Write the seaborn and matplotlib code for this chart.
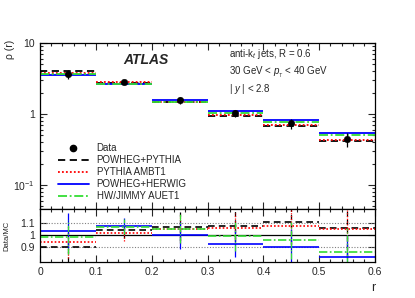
import numpy as np
import matplotlib
matplotlib.use("Agg")
import matplotlib.pyplot as plt
import seaborn as sns
import pandas as pd
from matplotlib.ticker import MultipleLocator, FixedLocator, LogLocator, NullFormatter
from matplotlib.lines import Line2D

# ---- data ----
bin_edges = [0.0, 0.1, 0.2, 0.3, 0.4, 0.5, 0.6]
r_centers = [0.05, 0.15, 0.25, 0.35, 0.45, 0.55]
data_rho = [3.62, 2.85, 1.57, 1.02, 0.74, 0.445]
data_relerr = [0.14, 0.06, 0.11, 0.12, 0.16, 0.22]

ratio_powheg_pythia = [0.905, 1.040, 1.068, 1.076, 1.105, 1.055]
ratio_pythia_ambt1 = [0.945, 1.015, 1.047, 1.055, 1.073, 1.045]
ratio_powheg_herwig = [1.034, 1.076, 0.995, 0.930, 0.905, 0.820]
ratio_hw_jimmy = [0.980, 1.068, 1.050, 0.990, 0.955, 0.865]

series_names = ["POWHEG+PYTHIA", "PYTHIA AMBT1", "POWHEG+HERWIG", "HW/JIMMY AUET1"]
series_ratios = [ratio_powheg_pythia, ratio_pythia_ambt1, ratio_powheg_herwig, ratio_hw_jimmy]
series_colors = ["black", "#ff0000", "#0000ff", "#33dd33"]
series_styles = [(0, (4, 2.5)), (0, (1, 1.2)), "-", (0, (5, 1.5, 1, 1.5))]

sns.set_theme(style="ticks")
plt.rcParams["font.family"] = ["Liberation Sans", "DejaVu Sans"]
plt.rcParams["mathtext.fontset"] = "custom"
plt.rcParams["mathtext.rm"] = "Liberation Sans"
plt.rcParams["mathtext.it"] = "Liberation Sans:italic"

fig = plt.figure(figsize=(4.15, 2.98), dpi=100)
L, R = 40 / 415, 375 / 415
ax = fig.add_axes([L, 1 - 209 / 298, R - L, (209 - 43) / 298])
axr = fig.add_axes([L, 1 - 262 / 298, R - L, (262 - 209) / 298], sharex=ax)

edges = np.array(bin_edges)
d = np.array(data_rho)
err = d * np.array(data_relerr)

# main panel MC predictions
for name, rat, c, ls in zip(series_names, series_ratios, series_colors, series_styles):
    mc = d / np.array(rat)
    ax.hlines(mc, edges[:-1], edges[1:], colors=c, linestyles=ls, lw=1.3, label=name)

df = pd.DataFrame({"r": r_centers, "rho": data_rho})
ax.errorbar(r_centers, data_rho, yerr=err, fmt="none", ecolor="black", lw=0.9)
sns.scatterplot(data=df, x="r", y="rho", ax=ax, color="black", s=22, edgecolor="black",
                zorder=5, legend=False)

ax.set_yscale("log")
ax.set_ylim(0.046, 10)
ax.set_xlim(0, 0.6)
ax.yaxis.set_major_locator(FixedLocator([0.1, 1, 10]))
ax.set_yticklabels(["$10^{-1}$", "1", "10"])
ax.yaxis.set_minor_locator(LogLocator(base=10, subs=np.arange(2, 10)))
ax.yaxis.set_minor_formatter(NullFormatter())
ax.set_ylabel("ρ (r)", fontsize=7.5, ha="right")
ax.yaxis.set_label_coords(-0.075, 1.02)
ax.set_xlabel("")
plt.setp(ax.get_xticklabels(), visible=False)

# legend
data_handle = Line2D([], [], marker="o", color="black", ls="none", markersize=4.5)
handles = [data_handle] + [Line2D([], [], color=c, ls=ls, lw=1.3) for c, ls in zip(series_colors, series_styles)]
labels = ["Data"] + series_names
ax.legend(handles, labels, loc="lower left", bbox_to_anchor=(0.03, 0.0), frameon=False,
          fontsize=7, handlelength=3.2, labelspacing=0.2, borderpad=0.3)

ax.text(0.248, 0.895, "ATLAS", transform=ax.transAxes, fontsize=10, fontweight="bold",
        fontstyle="italic", va="center")
ax.text(0.564, 0.935, r"anti-k$_{t}$ jets, R = 0.6", transform=ax.transAxes, fontsize=7, va="center")
ax.text(0.564, 0.825, r"30 GeV < $p_{_{T}}$ < 40 GeV", transform=ax.transAxes, fontsize=7, va="center")
ax.text(0.564, 0.72, r"| $y$ | < 2.8", transform=ax.transAxes, fontsize=7, va="center")

# ratio panel
axr.axhline(1.0, color="black", lw=0.9)
for yv in (0.9, 1.1):
    axr.axhline(yv, color="gray", lw=0.8, ls=(0, (1, 1.5)))
for rat, c, ls in zip(series_ratios, series_colors, series_styles):
    rat = np.array(rat)
    axr.hlines(rat, edges[:-1], edges[1:], colors=c, linestyles=ls, lw=1.2)
    axr.vlines(r_centers, rat * (1 - np.array(data_relerr)), rat * (1 + np.array(data_relerr)),
               colors=c, linestyles=ls, lw=0.9)
axr.set_ylim(0.78, 1.21)
axr.yaxis.set_major_locator(FixedLocator([0.9, 1.0, 1.1]))
axr.set_yticklabels(["0.9", "1", "1.1"])
axr.set_ylabel("Data/MC", fontsize=5.5)
axr.yaxis.set_label_coords(-0.088, 0.5)
axr.set_xlabel("r", fontsize=9, loc="right")
axr.xaxis.set_minor_locator(MultipleLocator(0.02))
axr.set_xticks([0, 0.1, 0.2, 0.3, 0.4, 0.5, 0.6])
axr.set_xticklabels(["0", "0.1", "0.2", "0.3", "0.4", "0.5", "0.6"])

for a in (ax, axr):
    a.tick_params(which="both", direction="in", top=True, right=True, labelsize=7.5, width=0.8)
    a.tick_params(which="major", length=5)
    a.tick_params(which="minor", length=2.5)
    for s in a.spines.values():
        s.set_linewidth(0.9)
        s.set_color("black")
ax.xaxis.set_minor_locator(MultipleLocator(0.02))

fig.savefig("out.png", dpi=100)
